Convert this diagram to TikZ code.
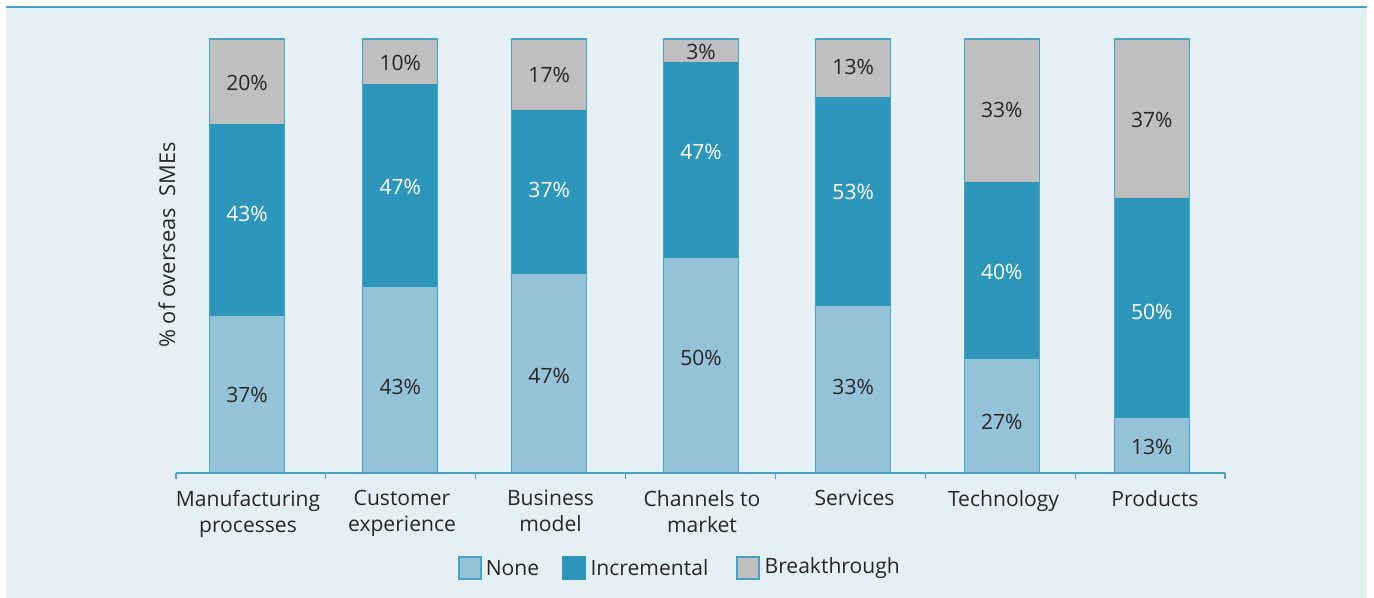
\documentclass[tikz,border=0pt]{standalone}
\usepackage{fontspec}
\setmainfont{Open Sans}
\usetikzlibrary{positioning}
\definecolor{bgblue}{HTML}{E5F0F5}
\definecolor{rulec}{HTML}{4AA2C6}
\definecolor{nonec}{HTML}{94C3D9}
\definecolor{incc}{HTML}{2E96BB}
\definecolor{brkc}{HTML}{BFBFBF}
\definecolor{txtc}{HTML}{2A2627}

\begin{document}
\begin{tikzpicture}[x=0.25mm,y=-0.25mm,
    lbl/.style={font=\fontsize{15}{18.5}\selectfont,text=txtc,inner sep=0pt},
    pct/.style={lbl},
    pctw/.style={lbl,text=white},
    catlab/.style={lbl,align=center,anchor=north},
    legbox/.style={draw=rulec,line width=0.5mm,minimum size=5.5mm,inner sep=0pt}]
    \useasboundingbox (0,0) rectangle (1374,598);
    \fill[bgblue] (6,7) rectangle (1367,598);
    \draw[rulec,line width=0.5mm] (6,7) -- (1367,7);

    % bars: left edge / bottom of breakthrough / bottom of incremental / labels and their heights
    \foreach \i/\xl/\yb/\yn/\pn/\pi/\pb/\ln/\li/\lb in {%
        1/209.5/124/316/37/43/20/395/214/83,
        2/362.8/83.7/286.7/43/47/10/386.7/186.7/63.3,
        3/511.7/110.3/273.7/47/37/17/375.7/190/75,
        4/663.5/62.3/257.7/50/47/3/358.3/151.7/51.7,
        5/815.7/97.3/305.7/33/53/13/386.7/192.3/66.7,
        6/964.3/182.3/359.3/27/40/33/422.3/272.3/110,
        7/1114.3/197.7/417.7/13/50/37/446.7/311.7/120}{
        \fill[nonec] (\xl,\yn) rectangle (\xl+75,473);
        \fill[incc] (\xl,\yb) rectangle (\xl+75,\yn);
        \fill[brkc] (\xl,39) rectangle (\xl+75,\yb);
        \draw[rulec,line width=0.3mm] (\xl,39) rectangle (\xl+75,473);
        \node[pct] (none\i) at (\xl+37.5,\ln) {\pn\%};
        \node[pctw] (inc\i) at (\xl+37.5,\li) {\pi\%};
        \node[pct] (brk\i) at (\xl+37.5,\lb) {\pb\%};
    }

    % axis and ticks
    \draw[rulec,line width=0.3mm] (176,473) -- (1225,473);
    \foreach \k in {0,...,7}
        \draw[rulec,line width=0.3mm] (176+\k*149.857,473) -- (176+\k*149.857,479);

    \node[catlab] (cat1) at (248,490) {Manufacturing\\processes};
    \node[catlab] (cat2) at (402,490) {Customer\\experience};
    \node[catlab] (cat3) at (550.5,490) {Business\\model};
    \node[catlab] (cat4) at (702,490) {Channels to\\market};
    \node[catlab] (cat5) at (854.5,490) {Services};
    \node[catlab] (cat6) at (1003.5,490) {Technology};
    \node[catlab] (cat7) at (1155,490) {Products};

    \node[lbl,rotate=90,font=\fontsize{15.5}{18.5}\selectfont] (ylab) at (167,245) {\% of overseas\ \ SMEs};

    % legend
    \node[legbox,fill=nonec] (keyNone) at (469.5,568) {};
    \node[lbl,right=1mm of keyNone] (txtNone) {None};
    \node[legbox,fill=incc,draw=incc] (keyInc) at (574.3,568) {};
    \node[lbl,right=1mm of keyInc] (txtInc) {Incremental};
    \node[legbox,fill=brkc] (keyBrk) at (748.3,568) {};
    \node[lbl,right=1mm of keyBrk] (txtBrk) {Breakthrough};
\end{tikzpicture}
\end{document}
